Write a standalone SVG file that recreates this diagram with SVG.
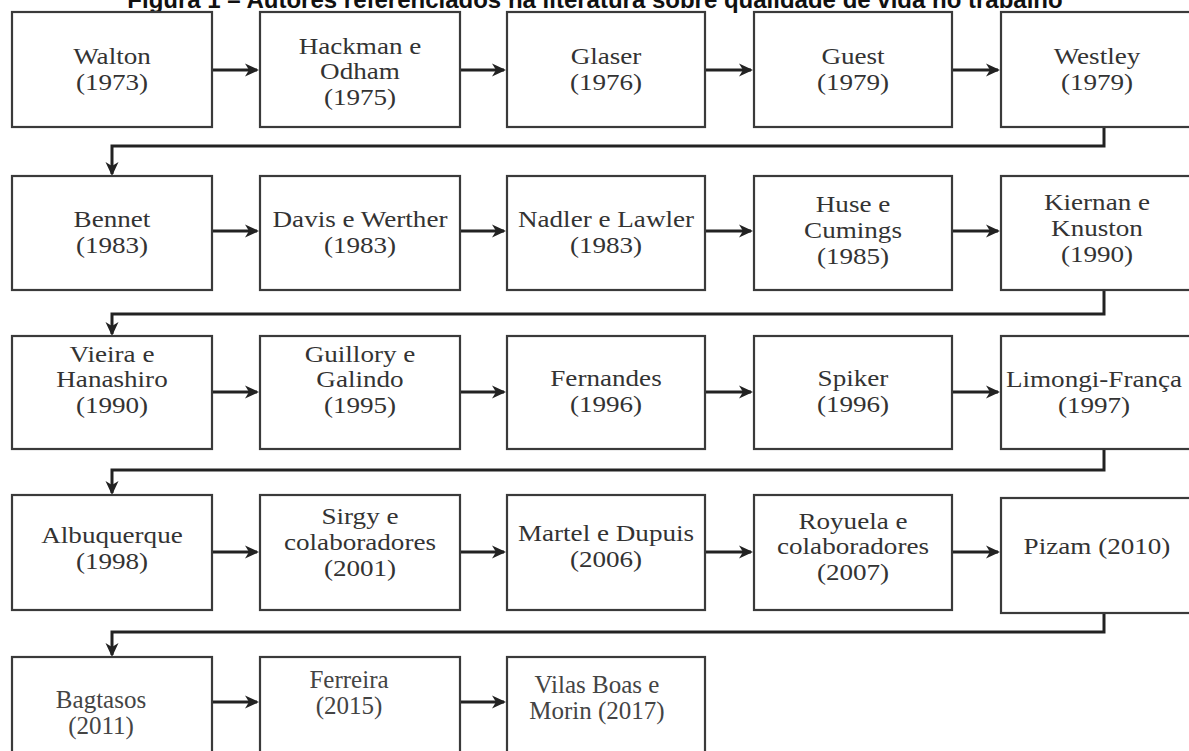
<svg xmlns="http://www.w3.org/2000/svg" width="1189" height="751" viewBox="0 0 1189 751">
<defs>
<marker id="ah" markerWidth="16" markerHeight="16" refX="13" refY="8" orient="auto" markerUnits="userSpaceOnUse">
<path d="M1,1.5 L15,8 L1,14.5 L5,8 z" fill="#222"/>
</marker>
<style>
.box{fill:#fff;stroke:#3a3a3a;stroke-width:2.2}
.t{font-family:"Liberation Serif","Times New Roman",serif;font-size:24px;fill:#333;text-anchor:middle}
.t5{font-family:"Liberation Serif","Times New Roman",serif;font-size:25px;fill:#444;text-anchor:middle}
.c{fill:none;stroke:#222;stroke-width:3}
.title{font-family:"Liberation Sans",Arial,sans-serif;font-weight:bold;font-size:24px;fill:#111;text-anchor:middle}
</style>
</defs>
<rect width="1189" height="751" fill="#fff"/>
<text class="title" x="595" y="8">Figura 1 – Autores referenciados na literatura sobre qualidade de vida no trabalho</text>

<g id="connectors">
<path class="c" d="M212,70 H257" marker-end="url(#ah)"/>
<path class="c" d="M460,70 H504" marker-end="url(#ah)"/>
<path class="c" d="M705,70 H751" marker-end="url(#ah)"/>
<path class="c" d="M952,70 H998" marker-end="url(#ah)"/>
<path class="c" d="M1104,127 V146 H112 V174" marker-end="url(#ah)"/>
<path class="c" d="M212,231 H257" marker-end="url(#ah)"/>
<path class="c" d="M460,231 H504" marker-end="url(#ah)"/>
<path class="c" d="M705,231 H751" marker-end="url(#ah)"/>
<path class="c" d="M952,231 H998" marker-end="url(#ah)"/>
<path class="c" d="M1104,290 V314 H112 V334" marker-end="url(#ah)"/>
<path class="c" d="M212,392 H257" marker-end="url(#ah)"/>
<path class="c" d="M460,392 H504" marker-end="url(#ah)"/>
<path class="c" d="M705,392 H751" marker-end="url(#ah)"/>
<path class="c" d="M952,392 H998" marker-end="url(#ah)"/>
<path class="c" d="M1104,449 V470 H112 V493" marker-end="url(#ah)"/>
<path class="c" d="M212,552 H257" marker-end="url(#ah)"/>
<path class="c" d="M460,552 H504" marker-end="url(#ah)"/>
<path class="c" d="M705,552 H751" marker-end="url(#ah)"/>
<path class="c" d="M952,552 H998" marker-end="url(#ah)"/>
<path class="c" d="M1104,613 V632 H112 V655" marker-end="url(#ah)"/>
<path class="c" d="M212,702 H257" marker-end="url(#ah)"/>
<path class="c" d="M460,702 H504" marker-end="url(#ah)"/>
</g>

<g id="n-walton"><rect class="box" x="12" y="12" width="200" height="115"/>
<text class="t" transform="translate(112 64) scale(1.13 1)">Walton</text><text class="t" transform="translate(112 90) scale(1.13 1)">(1973)</text></g>
<g id="n-hackman"><rect class="box" x="260" y="12" width="200" height="115"/>
<text class="t" transform="translate(360 54) scale(1.13 1)">Hackman e</text><text class="t" transform="translate(360 79) scale(1.13 1)">Odham</text><text class="t" transform="translate(360 105) scale(1.13 1)">(1975)</text></g>
<g id="n-glaser"><rect class="box" x="507" y="12" width="198" height="115"/>
<text class="t" transform="translate(606 64) scale(1.13 1)">Glaser</text><text class="t" transform="translate(606 90) scale(1.13 1)">(1976)</text></g>
<g id="n-guest"><rect class="box" x="754" y="12" width="198" height="115"/>
<text class="t" transform="translate(853 64) scale(1.13 1)">Guest</text><text class="t" transform="translate(853 90) scale(1.13 1)">(1979)</text></g>
<g id="n-westley"><rect class="box" x="1001" y="12" width="200" height="115"/>
<text class="t" transform="translate(1097 64) scale(1.13 1)">Westley</text><text class="t" transform="translate(1097 90) scale(1.13 1)">(1979)</text></g>

<g id="n-bennet"><rect class="box" x="12" y="176" width="200" height="114"/>
<text class="t" transform="translate(112 227) scale(1.13 1)">Bennet</text><text class="t" transform="translate(112 253) scale(1.13 1)">(1983)</text></g>
<g id="n-davis"><rect class="box" x="260" y="176" width="200" height="114"/>
<text class="t" transform="translate(360 227) scale(1.13 1)">Davis e Werther</text><text class="t" transform="translate(360 253) scale(1.13 1)">(1983)</text></g>
<g id="n-nadler"><rect class="box" x="507" y="176" width="198" height="114"/>
<text class="t" transform="translate(606 227) scale(1.13 1)">Nadler e Lawler</text><text class="t" transform="translate(606 253) scale(1.13 1)">(1983)</text></g>
<g id="n-huse"><rect class="box" x="754" y="176" width="198" height="114"/>
<text class="t" transform="translate(853 212) scale(1.13 1)">Huse e</text><text class="t" transform="translate(853 238) scale(1.13 1)">Cumings</text><text class="t" transform="translate(853 264) scale(1.13 1)">(1985)</text></g>
<g id="n-kiernan"><rect class="box" x="1001" y="176" width="200" height="114"/>
<text class="t" transform="translate(1097 210) scale(1.13 1)">Kiernan e</text><text class="t" transform="translate(1097 236) scale(1.13 1)">Knuston</text><text class="t" transform="translate(1097 262) scale(1.13 1)">(1990)</text></g>

<g id="n-vieira"><rect class="box" x="12" y="336" width="200" height="113"/>
<text class="t" transform="translate(112 362) scale(1.13 1)">Vieira e</text><text class="t" transform="translate(112 387) scale(1.13 1)">Hanashiro</text><text class="t" transform="translate(112 413) scale(1.13 1)">(1990)</text></g>
<g id="n-guillory"><rect class="box" x="260" y="336" width="200" height="113"/>
<text class="t" transform="translate(360 362) scale(1.13 1)">Guillory e</text><text class="t" transform="translate(360 387) scale(1.13 1)">Galindo</text><text class="t" transform="translate(360 413) scale(1.13 1)">(1995)</text></g>
<g id="n-fernandes"><rect class="box" x="507" y="336" width="198" height="113"/>
<text class="t" transform="translate(606 386) scale(1.13 1)">Fernandes</text><text class="t" transform="translate(606 412) scale(1.13 1)">(1996)</text></g>
<g id="n-spiker"><rect class="box" x="754" y="336" width="198" height="113"/>
<text class="t" transform="translate(853 386) scale(1.13 1)">Spiker</text><text class="t" transform="translate(853 412) scale(1.13 1)">(1996)</text></g>
<g id="n-limongi"><rect class="box" x="1001" y="336" width="200" height="113"/>
<text class="t" transform="translate(1094 387) scale(1.13 1)">Limongi-França</text><text class="t" transform="translate(1094 413) scale(1.13 1)">(1997)</text></g>

<g id="n-albuquerque"><rect class="box" x="12" y="495" width="200" height="115"/>
<text class="t" transform="translate(112 543) scale(1.13 1)">Albuquerque</text><text class="t" transform="translate(112 569) scale(1.13 1)">(1998)</text></g>
<g id="n-sirgy"><rect class="box" x="260" y="495" width="200" height="115"/>
<text class="t" transform="translate(360 524) scale(1.13 1)">Sirgy e</text><text class="t" transform="translate(360 550) scale(1.13 1)">colaboradores</text><text class="t" transform="translate(360 576) scale(1.13 1)">(2001)</text></g>
<g id="n-martel"><rect class="box" x="507" y="495" width="198" height="115"/>
<text class="t" transform="translate(606 541) scale(1.13 1)">Martel e Dupuis</text><text class="t" transform="translate(606 567) scale(1.13 1)">(2006)</text></g>
<g id="n-royuela"><rect class="box" x="754" y="495" width="198" height="115"/>
<text class="t" transform="translate(853 529) scale(1.13 1)">Royuela e</text><text class="t" transform="translate(853 554) scale(1.13 1)">colaboradores</text><text class="t" transform="translate(853 580) scale(1.13 1)">(2007)</text></g>
<g id="n-pizam"><rect class="box" x="1001" y="498" width="200" height="115"/>
<text class="t" transform="translate(1097 554) scale(1.13 1)">Pizam (2010)</text></g>

<g id="n-bagtasos"><rect class="box" x="12" y="657" width="200" height="110"/>
<text class="t5" x="101" y="708">Bagtasos</text><text class="t5" x="101" y="734">(2011)</text></g>
<g id="n-ferreira"><rect class="box" x="260" y="657" width="200" height="110"/>
<text class="t5" x="349" y="688">Ferreira</text><text class="t5" x="349" y="714">(2015)</text></g>
<g id="n-vilas"><rect class="box" x="507" y="657" width="198" height="110"/>
<text class="t5" x="597" y="693">Vilas Boas e</text><text class="t5" x="597" y="719">Morin (2017)</text></g>
</svg>
